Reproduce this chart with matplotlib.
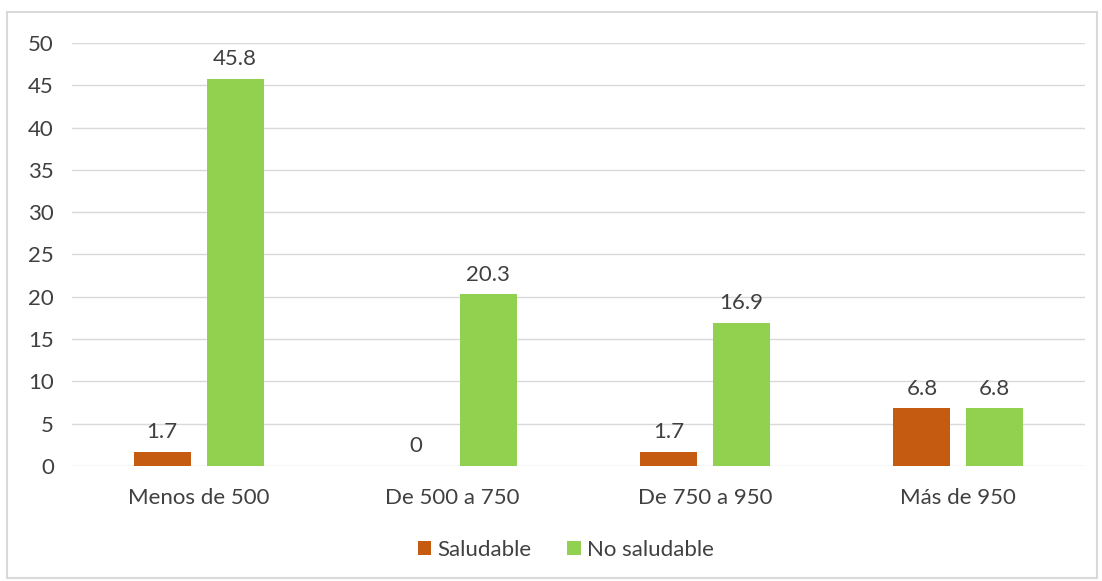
import numpy as np
import matplotlib.pyplot as plt
from matplotlib.patches import Rectangle

categories = ["Menos de 500", "De 500 a 750", "De 750 a 950", "Más de 950"]
saludable = [1.7, 0, 1.7, 6.8]
no_saludable = [45.8, 20.3, 16.9, 6.8]
labels_sal = ["1.7", "0", "1.7", "6.8"]
labels_no = ["45.8", "20.3", "16.9", "6.8"]

plt.rcParams['font.family'] = ['Lato', 'DejaVu Sans']
text_col = "#404040"
fs = 16

fig = plt.figure(figsize=(11.02, 5.81), dpi=100)
ax = fig.add_axes([72/1102, 1 - 466/581, (1085 - 72)/1102, (466 - 43)/581])

x = np.arange(len(categories))
w = 0.225
off = 0.144
b1 = ax.bar(x - off, saludable, w, color="#C55A11", label="Saludable")
b2 = ax.bar(x + off, no_saludable, w, color="#92D050", label="No saludable")

for bars, labs in ((b1, labels_sal), (b2, labels_no)):
    for b, t in zip(bars, labs):
        ax.annotate(t, (b.get_x() + b.get_width()/2, b.get_height()),
                    xytext=(0, 7), textcoords="offset points",
                    ha="center", va="bottom", fontsize=fs, color=text_col)

ax.set_xlim(-0.5, 3.5)
ax.set_ylim(0, 50)
ax.set_yticks(range(0, 51, 5))
ax.set_xticks(x)
ax.set_xticklabels(categories)
ax.tick_params(length=0, labelsize=fs, colors=text_col)
ax.tick_params(axis="y", pad=13)
ax.tick_params(axis="x", pad=16)
ax.grid(axis="y", color="#D9D9D9", linewidth=1)
ax.set_axisbelow(True)
for s in ax.spines.values():
    s.set_visible(False)

fig.legend(handles=[b1, b2], loc="center", bbox_to_anchor=(566/1102, 1 - 550/581),
           ncol=2, frameon=False, fontsize=fs, handlelength=0.6, handleheight=0.6,
           handletextpad=0.3, columnspacing=1.6, labelcolor=text_col)

fig.patches.append(Rectangle((7/1102, 1 - 578/581), 1090/1102, 566/581,
                             transform=fig.transFigure, fill=False,
                             edgecolor="#D9D9D9", linewidth=1.5))

fig.savefig("out.png", dpi=100, facecolor="white")
